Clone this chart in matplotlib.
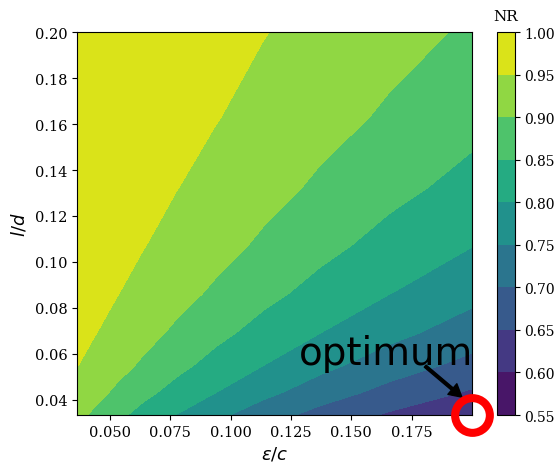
import numpy as np
import matplotlib
matplotlib.use('Agg')
import matplotlib.pyplot as plt

plt.rcParams['font.family'] = 'serif'
plt.rcParams['font.serif'] = ['DejaVu Serif']

# grid of eps/c and l/d where NR was evaluated
eps_c = [0.0364, 0.0440, 0.0532, 0.0642, 0.0776, 0.0938, 0.1133, 0.1370, 0.1655, 0.2000]
l_d = [0.0333, 0.0430, 0.0547, 0.0689, 0.0862, 0.1070, 0.1323, 0.1629, 0.2000]

# NR values, rows follow l_d, columns follow eps_c
NR = [[0.913, 0.891, 0.862, 0.831, 0.799, 0.762, 0.723, 0.683, 0.644, 0.604],
      [0.933, 0.913, 0.891, 0.862, 0.832, 0.800, 0.763, 0.724, 0.684, 0.644],
      [0.951, 0.933, 0.914, 0.892, 0.863, 0.832, 0.800, 0.763, 0.724, 0.684],
      [0.960, 0.951, 0.933, 0.914, 0.892, 0.863, 0.832, 0.800, 0.764, 0.725],
      [0.970, 0.961, 0.951, 0.933, 0.914, 0.893, 0.864, 0.833, 0.801, 0.764],
      [0.977, 0.970, 0.961, 0.951, 0.934, 0.915, 0.893, 0.864, 0.833, 0.801],
      [0.981, 0.977, 0.970, 0.961, 0.951, 0.934, 0.915, 0.893, 0.864, 0.834],
      [0.985, 0.981, 0.977, 0.970, 0.961, 0.952, 0.934, 0.915, 0.894, 0.865],
      [0.989, 0.985, 0.981, 0.977, 0.970, 0.961, 0.952, 0.934, 0.915, 0.894]]

levels = [0.55, 0.60, 0.65, 0.70, 0.75, 0.80, 0.85, 0.90, 0.95, 1.00]
xticks = [0.050, 0.075, 0.100, 0.125, 0.150, 0.175]

# chosen design point: largest eps/c, smallest l/d
opt_x = eps_c[-1]
opt_y = l_d[0]

fig = plt.figure(figsize=(5.56, 4.64), dpi=100)
ax = fig.add_axes([0.1385, 0.1034, 0.7105, 0.8248])
cax = fig.add_axes([0.894, 0.1034, 0.0324, 0.8248])

X, Y = np.meshgrid(eps_c, l_d)
cs = ax.contourf(X, Y, np.array(NR), levels=levels, cmap='viridis')

ax.set_xticks(xticks)
ax.set_xlabel(r'$\varepsilon/c$', fontsize=13)
ax.set_ylabel(r'$l/d$', fontsize=13)
ax.tick_params(labelsize=10.5)

ax.text(0.1283, 0.0557, 'optimum', fontsize=28, family='DejaVu Sans')
ax.annotate('', xy=(0.1958, 0.0411), xytext=(0.1806, 0.0546),
            arrowprops=dict(facecolor='black', edgecolor='black',
                            width=2, headwidth=10, headlength=9, shrink=0.0))
ax.plot(opt_x, opt_y, 'o', ms=25, mfc='none', mec='red', mew=5.8,
        clip_on=False, zorder=5)

cb = fig.colorbar(cs, cax=cax)
cb.set_ticks(levels)
cb.ax.tick_params(labelsize=10, pad=3)
cax.set_title('NR', fontsize=11, pad=9)

fig.savefig('out.png', dpi=100)
